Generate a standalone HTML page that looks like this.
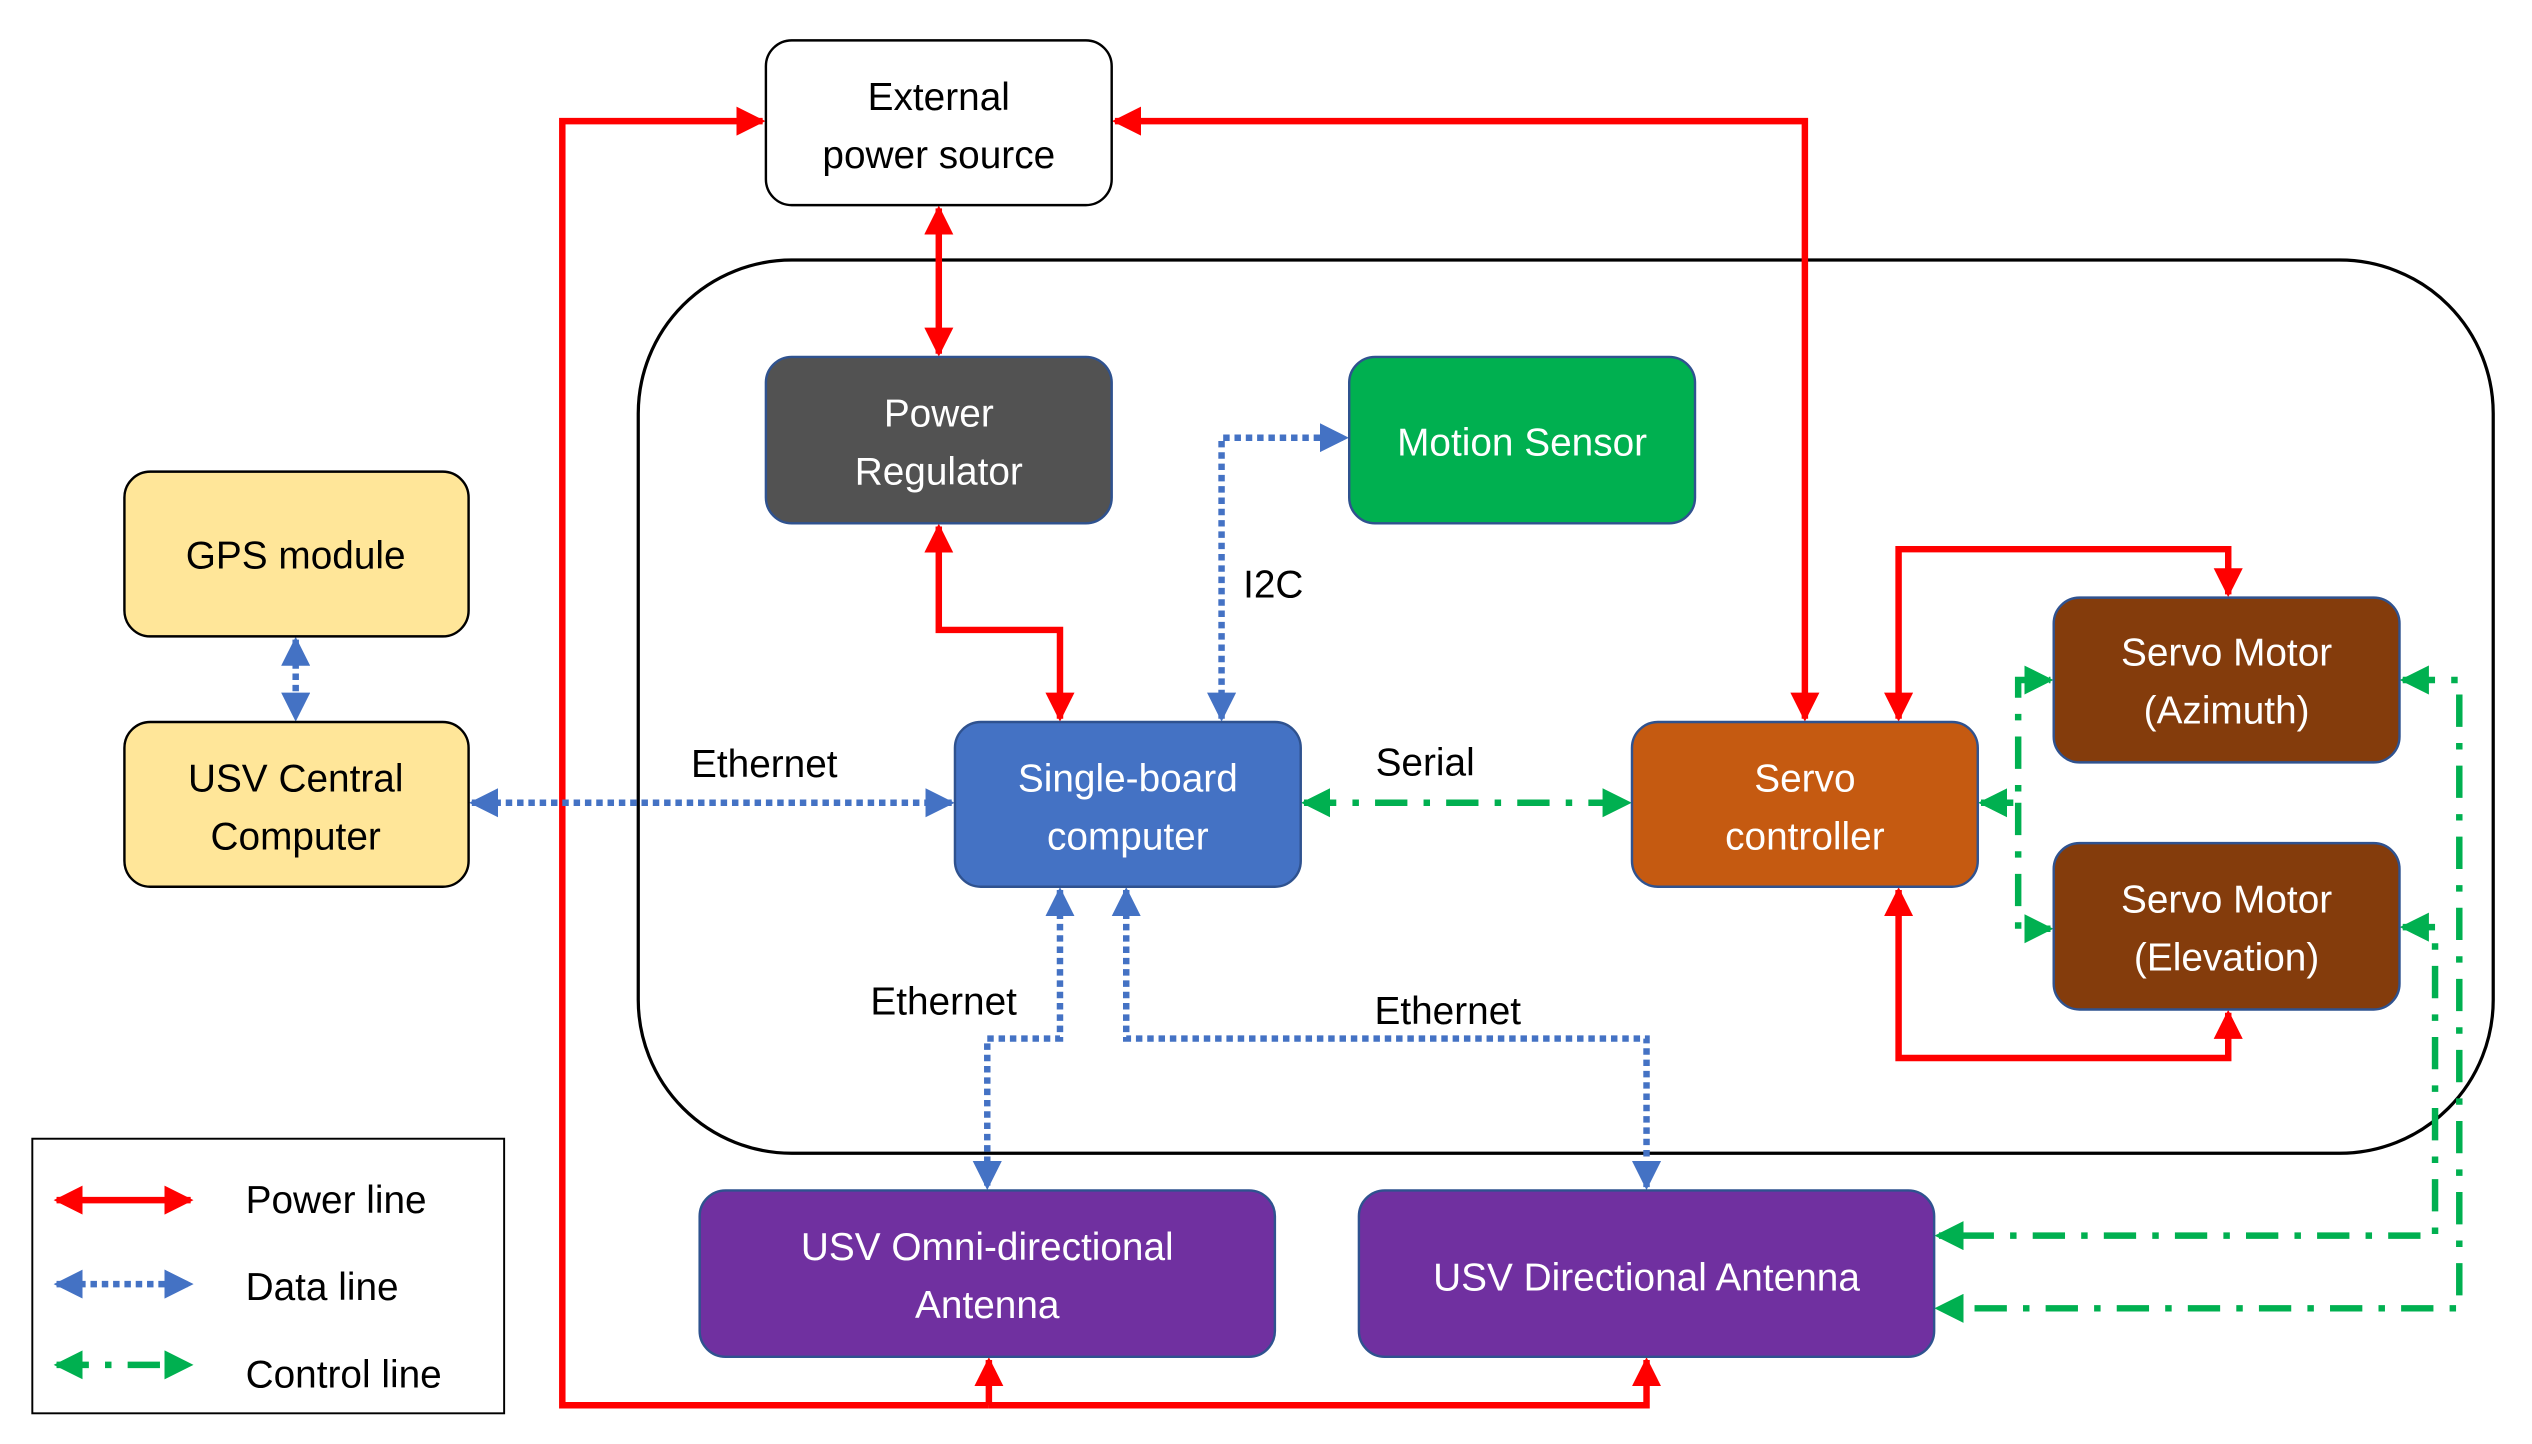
<!DOCTYPE html>
<html><head><meta charset="utf-8"><style>
html,body{margin:0;padding:0;background:#fff;}
svg{display:block;}
text{font-family:"Liberation Sans",sans-serif;font-size:24px;text-anchor:middle;}
</style></head><body>
<svg width="2532" height="1444" viewBox="0 0 1567 894" preserveAspectRatio="none" xmlns="http://www.w3.org/2000/svg">
<defs>
<marker id="ar" viewBox="0 0 10 10" refX="9" refY="5" markerWidth="4.5" markerHeight="4.5" orient="auto-start-reverse" markerUnits="strokeWidth"><path d="M0,0L10,5L0,10z" fill="#f00"/></marker>
<marker id="ab" viewBox="0 0 10 10" refX="9" refY="5" markerWidth="4.5" markerHeight="4.5" orient="auto-start-reverse" markerUnits="strokeWidth"><path d="M0,0L10,5L0,10z" fill="#4472C4"/></marker>
<marker id="ag" viewBox="0 0 10 10" refX="9" refY="5" markerWidth="4.5" markerHeight="4.5" orient="auto-start-reverse" markerUnits="strokeWidth"><path d="M0,0L10,5L0,10z" fill="#00B050"/></marker>
</defs>
<rect x="395" y="161" width="1148" height="553" rx="95" fill="none" stroke="#000" stroke-width="2"/>
<g fill="none" stroke="#f00" stroke-width="4">
<path d="M612,870 L348,870 L348,75 L472,75" marker-end="url(#ar)"/>
<path d="M612,870 L612,842" marker-end="url(#ar)"/>
<path d="M612,870 L1019,870 L1019,842" marker-end="url(#ar)"/>
<path d="M690,75 L1117,75 L1117,445" marker-start="url(#ar)" marker-end="url(#ar)"/>
<path d="M581,129 L581,219" marker-start="url(#ar)" marker-end="url(#ar)"/>
<path d="M581,326 L581,390 L656,390 L656,445" marker-start="url(#ar)" marker-end="url(#ar)"/>
<path d="M1175,445 L1175,340 L1379,340 L1379,368" marker-start="url(#ar)" marker-end="url(#ar)"/>
<path d="M1175,551 L1175,655 L1379,655 L1379,627" marker-start="url(#ar)" marker-end="url(#ar)"/>
</g>
<g fill="none" stroke="#4472C4" stroke-width="4" stroke-dasharray="4,3">
<path d="M756,445 L756,271 L833,271" marker-start="url(#ab)" marker-end="url(#ab)"/>
<path d="M183,396 L183,445" marker-start="url(#ab)" marker-end="url(#ab)"/>
<path d="M292,497 L589,497" marker-start="url(#ab)" marker-end="url(#ab)"/>
<path d="M656,551 L656,643 L611,643 L611,735" marker-start="url(#ab)" marker-end="url(#ab)"/>
<path d="M697,551 L697,643 L1019,643 L1019,735" marker-start="url(#ab)" marker-end="url(#ab)"/>
</g>
<g fill="none" stroke="#00B050" stroke-width="4" stroke-dasharray="20,10,4,10">
<path d="M807,497 L1008,497" marker-start="url(#ag)" marker-end="url(#ag)"/>
<path d="M1226,497 L1249,497 L1249,421 L1269,421" marker-start="url(#ag)" marker-end="url(#ag)"/>
<path d="M1249,497 L1249,575 L1269,575" marker-end="url(#ag)"/>
<path d="M1487,421 L1522,421 L1522,810 L1199,810" marker-start="url(#ag)" marker-end="url(#ag)"/>
<path d="M1487,574 L1507,574 L1507,765 L1199,765" marker-start="url(#ag)" marker-end="url(#ag)"/>
</g>
<rect x="474" y="25" width="214" height="102" rx="16" fill="#fff" stroke="#000" stroke-width="1.5"/>
<text x="581" y="68">External</text><text x="581" y="104">power source</text>
<rect x="474" y="221" width="214" height="103" rx="16" fill="#525252" stroke="#2F528F" stroke-width="1.5"/>
<text x="581" y="264" fill="#fff">Power</text><text x="581" y="300" fill="#fff">Regulator</text>
<rect x="835" y="221" width="214" height="103" rx="16" fill="#00B050" stroke="#2F528F" stroke-width="1.5"/>
<text x="942" y="282" fill="#fff">Motion Sensor</text>
<rect x="77" y="292" width="213" height="102" rx="16" fill="#FFE699" stroke="#000" stroke-width="1.5"/>
<text x="183" y="352">GPS module</text>
<rect x="77" y="447" width="213" height="102" rx="16" fill="#FFE699" stroke="#000" stroke-width="1.5"/>
<text x="183" y="490">USV Central</text><text x="183" y="526">Computer</text>
<rect x="591" y="447" width="214" height="102" rx="16" fill="#4472C4" stroke="#2F528F" stroke-width="1.5"/>
<text x="698" y="490" fill="#fff">Single-board</text><text x="698" y="526" fill="#fff">computer</text>
<rect x="1010" y="447" width="214" height="102" rx="16" fill="#C55A11" stroke="#2F528F" stroke-width="1.5"/>
<text x="1117" y="490" fill="#fff">Servo</text><text x="1117" y="526" fill="#fff">controller</text>
<rect x="1271" y="370" width="214" height="102" rx="16" fill="#843C0C" stroke="#2F528F" stroke-width="1.5"/>
<text x="1378" y="412" fill="#fff">Servo Motor</text><text x="1378" y="448" fill="#fff">(Azimuth)</text>
<rect x="1271" y="522" width="214" height="103" rx="16" fill="#843C0C" stroke="#2F528F" stroke-width="1.5"/>
<text x="1378" y="565" fill="#fff">Servo Motor</text><text x="1378" y="601" fill="#fff">(Elevation)</text>
<rect x="433" y="737" width="356" height="103" rx="16" fill="#7030A0" stroke="#2F528F" stroke-width="1.5"/>
<text x="611" y="780" fill="#fff">USV Omni-directional</text><text x="611" y="816" fill="#fff">Antenna</text>
<rect x="841" y="737" width="356" height="103" rx="16" fill="#7030A0" stroke="#2F528F" stroke-width="1.5"/>
<text x="1019" y="799" fill="#fff">USV Directional Antenna</text>
<text x="788" y="370">I2C</text>
<text x="473" y="481">Ethernet</text>
<text x="882" y="480">Serial</text>
<text x="584" y="628">Ethernet</text>
<text x="896" y="634">Ethernet</text>
<rect x="20" y="705" width="292" height="170" fill="#fff" stroke="#000" stroke-width="1.2"/>
<path d="M35,743 L118,743" stroke="#f00" stroke-width="4" marker-start="url(#ar)" marker-end="url(#ar)"/>
<path d="M35,795 L118,795" stroke="#4472C4" stroke-width="4" stroke-dasharray="4,3" marker-start="url(#ab)" marker-end="url(#ab)"/>
<path d="M35,845 L118,845" stroke="#00B050" stroke-width="4" stroke-dasharray="20,10,4,10" marker-start="url(#ag)" marker-end="url(#ag)"/>
<text x="152" y="751" style="text-anchor:start">Power line</text>
<text x="152" y="805" style="text-anchor:start">Data line</text>
<text x="152" y="859" style="text-anchor:start">Control line</text>
</svg>
</body></html>
